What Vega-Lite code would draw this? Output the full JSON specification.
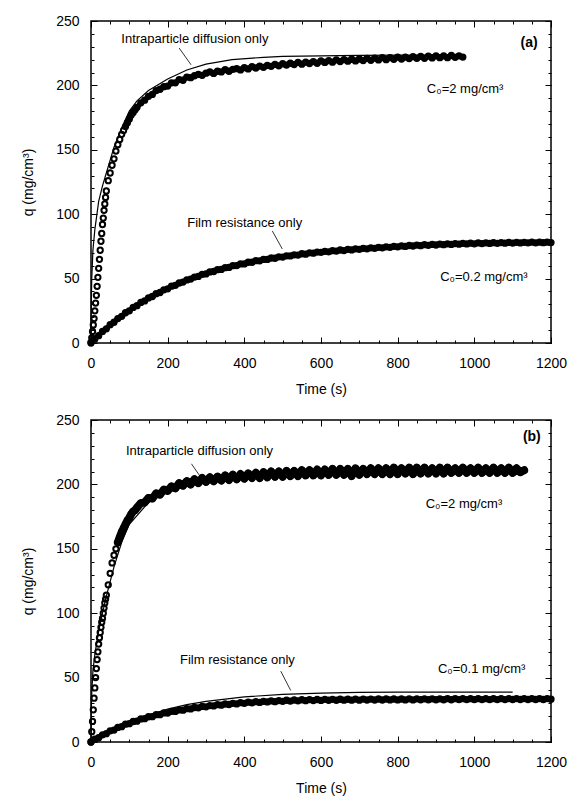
{
"$schema":"https://vega.github.io/schema/vega-lite/v6.json",
"padding":{"left":20,"top":13,"right":10,"bottom":2},
"spacing":15,
"config":{"view":{"stroke":"black","strokeWidth":1.5},"font":"Liberation Sans",
"axis":{"grid":false,"domain":false,"labelFont":"Liberation Sans","titleFont":"Liberation Sans","labelFontSize":14,"titleFontSize":14,"titleFontWeight":"normal","labelColor":"black","titleColor":"black","tickColor":"black","tickWidth":1,"labelFlush":false,"labelOverlap":false,"format":"d"},
"text":{"font":"Liberation Sans","color":"black"}},
"datasets":{"d":[
{"p":"a","k":"pt","s":"hi","t":0,"q":0},{"p":"a","k":"pt","s":"hi","t":2,"q":4},{"p":"a","k":"pt","s":"hi","t":4,"q":9},{"p":"a","k":"pt","s":"hi","t":6,"q":14},{"p":"a","k":"pt","s":"hi","t":8,"q":19},{"p":"a","k":"pt","s":"hi","t":10,"q":25},{"p":"a","k":"pt","s":"hi","t":12,"q":31},{"p":"a","k":"pt","s":"hi","t":14,"q":37},{"p":"a","k":"pt","s":"hi","t":16,"q":44},{"p":"a","k":"pt","s":"hi","t":18,"q":51},{"p":"a","k":"pt","s":"hi","t":20,"q":58},{"p":"a","k":"pt","s":"hi","t":22,"q":65},{"p":"a","k":"pt","s":"hi","t":24,"q":72},{"p":"a","k":"pt","s":"hi","t":26,"q":79},{"p":"a","k":"pt","s":"hi","t":28,"q":85},{"p":"a","k":"pt","s":"hi","t":30,"q":92},{"p":"a","k":"pt","s":"hi","t":32,"q":97},{"p":"a","k":"pt","s":"hi","t":34,"q":103},{"p":"a","k":"pt","s":"hi","t":36,"q":108},{"p":"a","k":"pt","s":"hi","t":38,"q":113},{"p":"a","k":"pt","s":"hi","t":40,"q":118},{"p":"a","k":"pt","s":"hi","t":45,"q":126},{"p":"a","k":"pt","s":"hi","t":50,"q":132},{"p":"a","k":"pt","s":"hi","t":55,"q":138},{"p":"a","k":"pt","s":"hi","t":60,"q":143},{"p":"a","k":"pt","s":"hi","t":65,"q":149},{"p":"a","k":"pt","s":"hi","t":70,"q":154},{"p":"a","k":"pt","s":"hi","t":75,"q":158},{"p":"a","k":"pt","s":"hi","t":80,"q":162},{"p":"a","k":"pt","s":"hi","t":85,"q":165},{"p":"a","k":"pt","s":"hi","t":90,"q":168},{"p":"a","k":"pt","s":"hi","t":95,"q":171},{"p":"a","k":"pt","s":"hi","t":100,"q":174},{"p":"a","k":"pt","s":"hi","t":105,"q":177},{"p":"a","k":"pt","s":"hi","t":110,"q":179},{"p":"a","k":"pt","s":"hi","t":115,"q":181},{"p":"a","k":"pt","s":"hi","t":120,"q":183},{"p":"a","k":"pt","s":"hi","t":130,"q":186.5},{"p":"a","k":"pt","s":"hi","t":140,"q":188.5},{"p":"a","k":"pt","s":"hi","t":150,"q":191.5},{"p":"a","k":"pt","s":"hi","t":160,"q":193},{"p":"a","k":"pt","s":"hi","t":170,"q":196},{"p":"a","k":"pt","s":"hi","t":180,"q":197},{"p":"a","k":"pt","s":"hi","t":190,"q":199},{"p":"a","k":"pt","s":"hi","t":200,"q":199.5},{"p":"a","k":"pt","s":"hi","t":210,"q":202},{"p":"a","k":"pt","s":"hi","t":220,"q":202},{"p":"a","k":"pt","s":"hi","t":230,"q":204.5},{"p":"a","k":"pt","s":"hi","t":240,"q":204},{"p":"a","k":"pt","s":"hi","t":250,"q":206.5},{"p":"a","k":"pt","s":"hi","t":260,"q":206},{"p":"a","k":"pt","s":"hi","t":270,"q":207.5},{"p":"a","k":"pt","s":"hi","t":280,"q":208.5},{"p":"a","k":"pt","s":"hi","t":290,"q":207.8},{"p":"a","k":"pt","s":"hi","t":300,"q":209.5},{"p":"a","k":"pt","s":"hi","t":310,"q":210.5},{"p":"a","k":"pt","s":"hi","t":320,"q":209.3},{"p":"a","k":"pt","s":"hi","t":330,"q":211},{"p":"a","k":"pt","s":"hi","t":340,"q":210.5},{"p":"a","k":"pt","s":"hi","t":350,"q":212.2},{"p":"a","k":"pt","s":"hi","t":360,"q":211},{"p":"a","k":"pt","s":"hi","t":370,"q":212.5},{"p":"a","k":"pt","s":"hi","t":380,"q":213},{"p":"a","k":"pt","s":"hi","t":390,"q":212},{"p":"a","k":"pt","s":"hi","t":400,"q":213.8},{"p":"a","k":"pt","s":"hi","t":410,"q":212.8},{"p":"a","k":"pt","s":"hi","t":420,"q":214.5},{"p":"a","k":"pt","s":"hi","t":430,"q":213.5},{"p":"a","k":"pt","s":"hi","t":440,"q":215},{"p":"a","k":"pt","s":"hi","t":450,"q":214},{"p":"a","k":"pt","s":"hi","t":460,"q":215.5},{"p":"a","k":"pt","s":"hi","t":470,"q":214.8},{"p":"a","k":"pt","s":"hi","t":480,"q":216.3},{"p":"a","k":"pt","s":"hi","t":490,"q":215.2},{"p":"a","k":"pt","s":"hi","t":500,"q":216.8},{"p":"a","k":"pt","s":"hi","t":510,"q":215.8},{"p":"a","k":"pt","s":"hi","t":520,"q":217.2},{"p":"a","k":"pt","s":"hi","t":530,"q":216.2},{"p":"a","k":"pt","s":"hi","t":540,"q":217.8},{"p":"a","k":"pt","s":"hi","t":550,"q":216.5},{"p":"a","k":"pt","s":"hi","t":560,"q":218},{"p":"a","k":"pt","s":"hi","t":570,"q":217},{"p":"a","k":"pt","s":"hi","t":580,"q":218.5},{"p":"a","k":"pt","s":"hi","t":590,"q":217.2},{"p":"a","k":"pt","s":"hi","t":600,"q":219},{"p":"a","k":"pt","s":"hi","t":610,"q":217.8},{"p":"a","k":"pt","s":"hi","t":620,"q":219.2},{"p":"a","k":"pt","s":"hi","t":630,"q":218},{"p":"a","k":"pt","s":"hi","t":640,"q":219.8},{"p":"a","k":"pt","s":"hi","t":650,"q":218.5},{"p":"a","k":"pt","s":"hi","t":660,"q":220},{"p":"a","k":"pt","s":"hi","t":670,"q":218.8},{"p":"a","k":"pt","s":"hi","t":680,"q":220.3},{"p":"a","k":"pt","s":"hi","t":690,"q":219},{"p":"a","k":"pt","s":"hi","t":700,"q":220.5},{"p":"a","k":"pt","s":"hi","t":710,"q":219.3},{"p":"a","k":"pt","s":"hi","t":720,"q":221},{"p":"a","k":"pt","s":"hi","t":730,"q":219.5},{"p":"a","k":"pt","s":"hi","t":740,"q":221.2},{"p":"a","k":"pt","s":"hi","t":750,"q":219.8},{"p":"a","k":"pt","s":"hi","t":760,"q":221.5},{"p":"a","k":"pt","s":"hi","t":770,"q":220},{"p":"a","k":"pt","s":"hi","t":780,"q":221.6},{"p":"a","k":"pt","s":"hi","t":790,"q":220.3},{"p":"a","k":"pt","s":"hi","t":800,"q":222},{"p":"a","k":"pt","s":"hi","t":810,"q":220.5},{"p":"a","k":"pt","s":"hi","t":820,"q":222},{"p":"a","k":"pt","s":"hi","t":830,"q":220.8},{"p":"a","k":"pt","s":"hi","t":840,"q":222.3},{"p":"a","k":"pt","s":"hi","t":850,"q":221},{"p":"a","k":"pt","s":"hi","t":860,"q":222.5},{"p":"a","k":"pt","s":"hi","t":870,"q":221},{"p":"a","k":"pt","s":"hi","t":880,"q":222.8},{"p":"a","k":"pt","s":"hi","t":890,"q":221.3},{"p":"a","k":"pt","s":"hi","t":900,"q":223},{"p":"a","k":"pt","s":"hi","t":910,"q":221.5},{"p":"a","k":"pt","s":"hi","t":920,"q":223},{"p":"a","k":"pt","s":"hi","t":930,"q":221.5},{"p":"a","k":"pt","s":"hi","t":940,"q":223.2},{"p":"a","k":"pt","s":"hi","t":950,"q":221.8},{"p":"a","k":"pt","s":"hi","t":960,"q":223},{"p":"a","k":"pt","s":"hi","t":970,"q":222},
{"p":"a","k":"pt","s":"lo","t":0,"q":0.5},{"p":"a","k":"pt","s":"lo","t":10,"q":3.2},{"p":"a","k":"pt","s":"lo","t":20,"q":5.7},{"p":"a","k":"pt","s":"lo","t":30,"q":9},{"p":"a","k":"pt","s":"lo","t":40,"q":11},{"p":"a","k":"pt","s":"lo","t":50,"q":14.2},{"p":"a","k":"pt","s":"lo","t":60,"q":16.1},{"p":"a","k":"pt","s":"lo","t":70,"q":19},{"p":"a","k":"pt","s":"lo","t":80,"q":20.7},{"p":"a","k":"pt","s":"lo","t":90,"q":23.5},{"p":"a","k":"pt","s":"lo","t":100,"q":25},{"p":"a","k":"pt","s":"lo","t":110,"q":27.6},{"p":"a","k":"pt","s":"lo","t":120,"q":29},{"p":"a","k":"pt","s":"lo","t":130,"q":31.5},{"p":"a","k":"pt","s":"lo","t":140,"q":32.7},{"p":"a","k":"pt","s":"lo","t":150,"q":35},{"p":"a","k":"pt","s":"lo","t":160,"q":36.1},{"p":"a","k":"pt","s":"lo","t":170,"q":38.3},{"p":"a","k":"pt","s":"lo","t":180,"q":39.2},{"p":"a","k":"pt","s":"lo","t":190,"q":41.3},{"p":"a","k":"pt","s":"lo","t":200,"q":42.1},{"p":"a","k":"pt","s":"lo","t":210,"q":44.1},{"p":"a","k":"pt","s":"lo","t":220,"q":44.8},{"p":"a","k":"pt","s":"lo","t":230,"q":46.6},{"p":"a","k":"pt","s":"lo","t":240,"q":47.3},{"p":"a","k":"pt","s":"lo","t":250,"q":49},{"p":"a","k":"pt","s":"lo","t":260,"q":49.6},{"p":"a","k":"pt","s":"lo","t":270,"q":51.2},{"p":"a","k":"pt","s":"lo","t":280,"q":51.7},{"p":"a","k":"pt","s":"lo","t":290,"q":53.3},{"p":"a","k":"pt","s":"lo","t":300,"q":53.6},{"p":"a","k":"pt","s":"lo","t":310,"q":55.2},{"p":"a","k":"pt","s":"lo","t":320,"q":55.5},{"p":"a","k":"pt","s":"lo","t":330,"q":56.9},{"p":"a","k":"pt","s":"lo","t":340,"q":57.1},{"p":"a","k":"pt","s":"lo","t":350,"q":58.5},{"p":"a","k":"pt","s":"lo","t":360,"q":58.7},{"p":"a","k":"pt","s":"lo","t":370,"q":60},{"p":"a","k":"pt","s":"lo","t":380,"q":60.1},{"p":"a","k":"pt","s":"lo","t":390,"q":61.4},{"p":"a","k":"pt","s":"lo","t":400,"q":61.4},{"p":"a","k":"pt","s":"lo","t":410,"q":62.7},{"p":"a","k":"pt","s":"lo","t":420,"q":62.7},{"p":"a","k":"pt","s":"lo","t":430,"q":63.9},{"p":"a","k":"pt","s":"lo","t":440,"q":63.8},{"p":"a","k":"pt","s":"lo","t":450,"q":64.9},{"p":"a","k":"pt","s":"lo","t":460,"q":64.9},{"p":"a","k":"pt","s":"lo","t":470,"q":66},{"p":"a","k":"pt","s":"lo","t":480,"q":65.8},{"p":"a","k":"pt","s":"lo","t":490,"q":66.9},{"p":"a","k":"pt","s":"lo","t":500,"q":66.7},{"p":"a","k":"pt","s":"lo","t":510,"q":67.7},{"p":"a","k":"pt","s":"lo","t":520,"q":67.6},{"p":"a","k":"pt","s":"lo","t":530,"q":68.5},{"p":"a","k":"pt","s":"lo","t":540,"q":68.3},{"p":"a","k":"pt","s":"lo","t":550,"q":69.3},{"p":"a","k":"pt","s":"lo","t":560,"q":69},{"p":"a","k":"pt","s":"lo","t":570,"q":70},{"p":"a","k":"pt","s":"lo","t":580,"q":69.7},{"p":"a","k":"pt","s":"lo","t":590,"q":70.6},{"p":"a","k":"pt","s":"lo","t":600,"q":70.3},{"p":"a","k":"pt","s":"lo","t":610,"q":71.2},{"p":"a","k":"pt","s":"lo","t":620,"q":70.8},{"p":"a","k":"pt","s":"lo","t":630,"q":71.7},{"p":"a","k":"pt","s":"lo","t":640,"q":71.4},{"p":"a","k":"pt","s":"lo","t":650,"q":72.2},{"p":"a","k":"pt","s":"lo","t":660,"q":71.8},{"p":"a","k":"pt","s":"lo","t":670,"q":72.7},{"p":"a","k":"pt","s":"lo","t":680,"q":72.3},{"p":"a","k":"pt","s":"lo","t":690,"q":73.1},{"p":"a","k":"pt","s":"lo","t":700,"q":72.7},{"p":"a","k":"pt","s":"lo","t":710,"q":73.5},{"p":"a","k":"pt","s":"lo","t":720,"q":73.1},{"p":"a","k":"pt","s":"lo","t":730,"q":73.9},{"p":"a","k":"pt","s":"lo","t":740,"q":73.5},{"p":"a","k":"pt","s":"lo","t":750,"q":74.3},{"p":"a","k":"pt","s":"lo","t":760,"q":73.9},{"p":"a","k":"pt","s":"lo","t":770,"q":74.7},{"p":"a","k":"pt","s":"lo","t":780,"q":74.3},{"p":"a","k":"pt","s":"lo","t":790,"q":75.1},{"p":"a","k":"pt","s":"lo","t":800,"q":74.7},{"p":"a","k":"pt","s":"lo","t":810,"q":75.4},{"p":"a","k":"pt","s":"lo","t":820,"q":75},{"p":"a","k":"pt","s":"lo","t":830,"q":75.7},{"p":"a","k":"pt","s":"lo","t":840,"q":75.3},{"p":"a","k":"pt","s":"lo","t":850,"q":76},{"p":"a","k":"pt","s":"lo","t":860,"q":75.6},{"p":"a","k":"pt","s":"lo","t":870,"q":76.3},{"p":"a","k":"pt","s":"lo","t":880,"q":75.8},{"p":"a","k":"pt","s":"lo","t":890,"q":76.5},{"p":"a","k":"pt","s":"lo","t":900,"q":76.1},{"p":"a","k":"pt","s":"lo","t":910,"q":76.8},{"p":"a","k":"pt","s":"lo","t":920,"q":76.3},{"p":"a","k":"pt","s":"lo","t":930,"q":77},{"p":"a","k":"pt","s":"lo","t":940,"q":76.5},{"p":"a","k":"pt","s":"lo","t":950,"q":77.2},{"p":"a","k":"pt","s":"lo","t":960,"q":76.7},{"p":"a","k":"pt","s":"lo","t":970,"q":77.4},{"p":"a","k":"pt","s":"lo","t":980,"q":76.9},{"p":"a","k":"pt","s":"lo","t":990,"q":77.5},{"p":"a","k":"pt","s":"lo","t":1000,"q":77},{"p":"a","k":"pt","s":"lo","t":1010,"q":77.7},{"p":"a","k":"pt","s":"lo","t":1020,"q":77.2},{"p":"a","k":"pt","s":"lo","t":1030,"q":77.8},{"p":"a","k":"pt","s":"lo","t":1040,"q":77.3},{"p":"a","k":"pt","s":"lo","t":1050,"q":77.9},{"p":"a","k":"pt","s":"lo","t":1060,"q":77.4},{"p":"a","k":"pt","s":"lo","t":1070,"q":78},{"p":"a","k":"pt","s":"lo","t":1080,"q":77.5},{"p":"a","k":"pt","s":"lo","t":1090,"q":78.1},{"p":"a","k":"pt","s":"lo","t":1100,"q":77.6},{"p":"a","k":"pt","s":"lo","t":1110,"q":78.2},{"p":"a","k":"pt","s":"lo","t":1120,"q":77.7},{"p":"a","k":"pt","s":"lo","t":1130,"q":78.2},{"p":"a","k":"pt","s":"lo","t":1140,"q":77.8},{"p":"a","k":"pt","s":"lo","t":1150,"q":78.3},{"p":"a","k":"pt","s":"lo","t":1160,"q":77.8},{"p":"a","k":"pt","s":"lo","t":1170,"q":78.3},{"p":"a","k":"pt","s":"lo","t":1180,"q":77.9},{"p":"a","k":"pt","s":"lo","t":1190,"q":78.3},{"p":"a","k":"pt","s":"lo","t":1200,"q":78},
{"p":"a","k":"ln","s":"hi","t":0,"q":0},{"p":"a","k":"ln","s":"hi","t":1,"q":35},{"p":"a","k":"ln","s":"hi","t":2,"q":50},{"p":"a","k":"ln","s":"hi","t":5,"q":72},{"p":"a","k":"ln","s":"hi","t":10,"q":88},{"p":"a","k":"ln","s":"hi","t":20,"q":110},{"p":"a","k":"ln","s":"hi","t":30,"q":122},{"p":"a","k":"ln","s":"hi","t":40,"q":132},{"p":"a","k":"ln","s":"hi","t":50,"q":142},{"p":"a","k":"ln","s":"hi","t":60,"q":152},{"p":"a","k":"ln","s":"hi","t":80,"q":167},{"p":"a","k":"ln","s":"hi","t":100,"q":180},{"p":"a","k":"ln","s":"hi","t":120,"q":188},{"p":"a","k":"ln","s":"hi","t":150,"q":196},{"p":"a","k":"ln","s":"hi","t":200,"q":205},{"p":"a","k":"ln","s":"hi","t":250,"q":212},{"p":"a","k":"ln","s":"hi","t":300,"q":216.5},{"p":"a","k":"ln","s":"hi","t":368,"q":220},{"p":"a","k":"ln","s":"hi","t":450,"q":221.8},{"p":"a","k":"ln","s":"hi","t":500,"q":222.5},{"p":"a","k":"ln","s":"hi","t":600,"q":223},{"p":"a","k":"ln","s":"hi","t":700,"q":223.3},{"p":"a","k":"ln","s":"hi","t":800,"q":223.5},{"p":"a","k":"ln","s":"hi","t":970,"q":223.6},
{"p":"a","k":"ln","s":"lo","t":0,"q":0},{"p":"a","k":"ln","s":"lo","t":50,"q":14.3},{"p":"a","k":"ln","s":"lo","t":100,"q":25.8},{"p":"a","k":"ln","s":"lo","t":150,"q":35.2},{"p":"a","k":"ln","s":"lo","t":200,"q":43},{"p":"a","k":"ln","s":"lo","t":250,"q":49.5},{"p":"a","k":"ln","s":"lo","t":300,"q":54.7},{"p":"a","k":"ln","s":"lo","t":400,"q":62.2},{"p":"a","k":"ln","s":"lo","t":500,"q":67.4},{"p":"a","k":"ln","s":"lo","t":600,"q":71},{"p":"a","k":"ln","s":"lo","t":700,"q":73.6},{"p":"a","k":"ln","s":"lo","t":800,"q":75.3},{"p":"a","k":"ln","s":"lo","t":900,"q":76.5},{"p":"a","k":"ln","s":"lo","t":1000,"q":77.3},{"p":"a","k":"ln","s":"lo","t":1100,"q":77.9},{"p":"a","k":"ln","s":"lo","t":1200,"q":78.3},
{"p":"a","k":"tx","s":"x","t":271,"q":236,"label":"Intraparticle diffusion only"},{"p":"a","k":"tx","s":"x","t":976,"q":197,"label":"C₀=2 mg/cm³"},{"p":"a","k":"tx","s":"x","t":401,"q":93,"label":"Film resistance only"},{"p":"a","k":"tx","s":"x","t":1025,"q":51,"label":"C₀=0.2 mg/cm³"},{"p":"a","k":"bx","s":"x","t":1143,"q":233,"label":"(a)"},
{"p":"a","k":"rl","s":"x","t":230,"q":229,"t2":261,"q2":216},{"p":"a","k":"rl","s":"x","t":473,"q":87,"t2":499,"q2":73},
{"p":"b","k":"pt","s":"hi","t":0,"q":0},{"p":"b","k":"pt","s":"hi","t":2,"q":8},{"p":"b","k":"pt","s":"hi","t":4,"q":16},{"p":"b","k":"pt","s":"hi","t":6,"q":25},{"p":"b","k":"pt","s":"hi","t":8,"q":34},{"p":"b","k":"pt","s":"hi","t":10,"q":42},{"p":"b","k":"pt","s":"hi","t":12,"q":50},{"p":"b","k":"pt","s":"hi","t":14,"q":57},{"p":"b","k":"pt","s":"hi","t":16,"q":64},{"p":"b","k":"pt","s":"hi","t":18,"q":70},{"p":"b","k":"pt","s":"hi","t":20,"q":76},{"p":"b","k":"pt","s":"hi","t":22,"q":81},{"p":"b","k":"pt","s":"hi","t":24,"q":85},{"p":"b","k":"pt","s":"hi","t":26,"q":89},{"p":"b","k":"pt","s":"hi","t":28,"q":93},{"p":"b","k":"pt","s":"hi","t":30,"q":96},{"p":"b","k":"pt","s":"hi","t":32,"q":100},{"p":"b","k":"pt","s":"hi","t":34,"q":104},{"p":"b","k":"pt","s":"hi","t":36,"q":108},{"p":"b","k":"pt","s":"hi","t":38,"q":111},{"p":"b","k":"pt","s":"hi","t":40,"q":114},{"p":"b","k":"pt","s":"hi","t":45,"q":122},{"p":"b","k":"pt","s":"hi","t":50,"q":131},{"p":"b","k":"pt","s":"hi","t":55,"q":139},{"p":"b","k":"pt","s":"hi","t":60,"q":145},{"p":"b","k":"pt","s":"hi","t":65,"q":150},{"p":"b","k":"pt","s":"hi","t":70,"q":155},{"p":"b","k":"pt","s":"hi","t":75,"q":159},{"p":"b","k":"pt","s":"hi","t":80,"q":163},{"p":"b","k":"pt","s":"hi","t":85,"q":166},{"p":"b","k":"pt","s":"hi","t":90,"q":169},{"p":"b","k":"pt","s":"hi","t":95,"q":172},{"p":"b","k":"pt","s":"hi","t":100,"q":174},{"p":"b","k":"pt","s":"hi","t":105,"q":177},{"p":"b","k":"pt","s":"hi","t":110,"q":179},{"p":"b","k":"pt","s":"hi","t":115,"q":180},{"p":"b","k":"pt","s":"hi","t":120,"q":182},{"p":"b","k":"pt","s":"hi","t":130,"q":185.5},{"p":"b","k":"pt","s":"hi","t":140,"q":186},{"p":"b","k":"pt","s":"hi","t":150,"q":189.5},{"p":"b","k":"pt","s":"hi","t":160,"q":189},{"p":"b","k":"pt","s":"hi","t":170,"q":193},{"p":"b","k":"pt","s":"hi","t":180,"q":192},{"p":"b","k":"pt","s":"hi","t":190,"q":196},{"p":"b","k":"pt","s":"hi","t":200,"q":195},{"p":"b","k":"pt","s":"hi","t":210,"q":198.5},{"p":"b","k":"pt","s":"hi","t":220,"q":197},{"p":"b","k":"pt","s":"hi","t":230,"q":201},{"p":"b","k":"pt","s":"hi","t":240,"q":199},{"p":"b","k":"pt","s":"hi","t":250,"q":202.5},{"p":"b","k":"pt","s":"hi","t":260,"q":200},{"p":"b","k":"pt","s":"hi","t":270,"q":204},{"p":"b","k":"pt","s":"hi","t":280,"q":201},{"p":"b","k":"pt","s":"hi","t":290,"q":205},{"p":"b","k":"pt","s":"hi","t":300,"q":202},{"p":"b","k":"pt","s":"hi","t":310,"q":205.5},{"p":"b","k":"pt","s":"hi","t":320,"q":202.5},{"p":"b","k":"pt","s":"hi","t":330,"q":206},{"p":"b","k":"pt","s":"hi","t":340,"q":203},{"p":"b","k":"pt","s":"hi","t":350,"q":207},{"p":"b","k":"pt","s":"hi","t":360,"q":203.5},{"p":"b","k":"pt","s":"hi","t":370,"q":207.5},{"p":"b","k":"pt","s":"hi","t":380,"q":204},{"p":"b","k":"pt","s":"hi","t":390,"q":208},{"p":"b","k":"pt","s":"hi","t":400,"q":204.5},{"p":"b","k":"pt","s":"hi","t":410,"q":208.5},{"p":"b","k":"pt","s":"hi","t":420,"q":205},{"p":"b","k":"pt","s":"hi","t":430,"q":209},{"p":"b","k":"pt","s":"hi","t":440,"q":205},{"p":"b","k":"pt","s":"hi","t":450,"q":209.5},{"p":"b","k":"pt","s":"hi","t":460,"q":205.5},{"p":"b","k":"pt","s":"hi","t":470,"q":210},{"p":"b","k":"pt","s":"hi","t":480,"q":206},{"p":"b","k":"pt","s":"hi","t":490,"q":210},{"p":"b","k":"pt","s":"hi","t":500,"q":206},{"p":"b","k":"pt","s":"hi","t":510,"q":210.5},{"p":"b","k":"pt","s":"hi","t":520,"q":206.5},{"p":"b","k":"pt","s":"hi","t":530,"q":210.5},{"p":"b","k":"pt","s":"hi","t":540,"q":206.5},{"p":"b","k":"pt","s":"hi","t":550,"q":211},{"p":"b","k":"pt","s":"hi","t":560,"q":207},{"p":"b","k":"pt","s":"hi","t":570,"q":211},{"p":"b","k":"pt","s":"hi","t":580,"q":207},{"p":"b","k":"pt","s":"hi","t":590,"q":211.5},{"p":"b","k":"pt","s":"hi","t":600,"q":207},{"p":"b","k":"pt","s":"hi","t":610,"q":211.5},{"p":"b","k":"pt","s":"hi","t":620,"q":207.5},{"p":"b","k":"pt","s":"hi","t":630,"q":212},{"p":"b","k":"pt","s":"hi","t":640,"q":207.5},{"p":"b","k":"pt","s":"hi","t":650,"q":212},{"p":"b","k":"pt","s":"hi","t":660,"q":207.5},{"p":"b","k":"pt","s":"hi","t":670,"q":212},{"p":"b","k":"pt","s":"hi","t":680,"q":206.5},{"p":"b","k":"pt","s":"hi","t":690,"q":212.5},{"p":"b","k":"pt","s":"hi","t":700,"q":207.5},{"p":"b","k":"pt","s":"hi","t":710,"q":212},{"p":"b","k":"pt","s":"hi","t":720,"q":208},{"p":"b","k":"pt","s":"hi","t":730,"q":212.5},{"p":"b","k":"pt","s":"hi","t":740,"q":208},{"p":"b","k":"pt","s":"hi","t":750,"q":212.5},{"p":"b","k":"pt","s":"hi","t":760,"q":208},{"p":"b","k":"pt","s":"hi","t":770,"q":212.5},{"p":"b","k":"pt","s":"hi","t":780,"q":208},{"p":"b","k":"pt","s":"hi","t":790,"q":213},{"p":"b","k":"pt","s":"hi","t":800,"q":208},{"p":"b","k":"pt","s":"hi","t":810,"q":212.5},{"p":"b","k":"pt","s":"hi","t":820,"q":208.5},{"p":"b","k":"pt","s":"hi","t":830,"q":213},{"p":"b","k":"pt","s":"hi","t":840,"q":208},{"p":"b","k":"pt","s":"hi","t":850,"q":213},{"p":"b","k":"pt","s":"hi","t":860,"q":208.5},{"p":"b","k":"pt","s":"hi","t":870,"q":213},{"p":"b","k":"pt","s":"hi","t":880,"q":208.5},{"p":"b","k":"pt","s":"hi","t":890,"q":212.5},{"p":"b","k":"pt","s":"hi","t":900,"q":208.5},{"p":"b","k":"pt","s":"hi","t":910,"q":213},{"p":"b","k":"pt","s":"hi","t":920,"q":208.5},{"p":"b","k":"pt","s":"hi","t":930,"q":213},{"p":"b","k":"pt","s":"hi","t":940,"q":209},{"p":"b","k":"pt","s":"hi","t":950,"q":212.5},{"p":"b","k":"pt","s":"hi","t":960,"q":209},{"p":"b","k":"pt","s":"hi","t":970,"q":213},{"p":"b","k":"pt","s":"hi","t":980,"q":209},{"p":"b","k":"pt","s":"hi","t":990,"q":212.5},{"p":"b","k":"pt","s":"hi","t":1000,"q":209},{"p":"b","k":"pt","s":"hi","t":1010,"q":213},{"p":"b","k":"pt","s":"hi","t":1020,"q":209},{"p":"b","k":"pt","s":"hi","t":1030,"q":212.5},{"p":"b","k":"pt","s":"hi","t":1040,"q":209},{"p":"b","k":"pt","s":"hi","t":1050,"q":213},{"p":"b","k":"pt","s":"hi","t":1060,"q":209},{"p":"b","k":"pt","s":"hi","t":1070,"q":212.5},{"p":"b","k":"pt","s":"hi","t":1080,"q":209},{"p":"b","k":"pt","s":"hi","t":1090,"q":213},{"p":"b","k":"pt","s":"hi","t":1100,"q":209},{"p":"b","k":"pt","s":"hi","t":1110,"q":212.5},{"p":"b","k":"pt","s":"hi","t":1120,"q":209.5},{"p":"b","k":"pt","s":"hi","t":1130,"q":211},
{"p":"b","k":"pt","s":"lo","t":0,"q":0},{"p":"b","k":"pt","s":"lo","t":10,"q":2.2},{"p":"b","k":"pt","s":"lo","t":20,"q":3.3},{"p":"b","k":"pt","s":"lo","t":30,"q":5.6},{"p":"b","k":"pt","s":"lo","t":40,"q":6.5},{"p":"b","k":"pt","s":"lo","t":50,"q":8.7},{"p":"b","k":"pt","s":"lo","t":60,"q":9.3},{"p":"b","k":"pt","s":"lo","t":70,"q":11.3},{"p":"b","k":"pt","s":"lo","t":80,"q":11.9},{"p":"b","k":"pt","s":"lo","t":90,"q":13.8},{"p":"b","k":"pt","s":"lo","t":100,"q":14.2},{"p":"b","k":"pt","s":"lo","t":110,"q":15.9},{"p":"b","k":"pt","s":"lo","t":120,"q":16.2},{"p":"b","k":"pt","s":"lo","t":130,"q":17.9},{"p":"b","k":"pt","s":"lo","t":140,"q":18.1},{"p":"b","k":"pt","s":"lo","t":150,"q":19.6},{"p":"b","k":"pt","s":"lo","t":160,"q":19.7},{"p":"b","k":"pt","s":"lo","t":170,"q":21.2},{"p":"b","k":"pt","s":"lo","t":180,"q":21.2},{"p":"b","k":"pt","s":"lo","t":190,"q":22.6},{"p":"b","k":"pt","s":"lo","t":200,"q":22.5},{"p":"b","k":"pt","s":"lo","t":210,"q":23.8},{"p":"b","k":"pt","s":"lo","t":220,"q":23.7},{"p":"b","k":"pt","s":"lo","t":230,"q":24.9},{"p":"b","k":"pt","s":"lo","t":240,"q":24.7},{"p":"b","k":"pt","s":"lo","t":250,"q":25.9},{"p":"b","k":"pt","s":"lo","t":260,"q":25.7},{"p":"b","k":"pt","s":"lo","t":270,"q":26.8},{"p":"b","k":"pt","s":"lo","t":280,"q":26.5},{"p":"b","k":"pt","s":"lo","t":290,"q":27.6},{"p":"b","k":"pt","s":"lo","t":300,"q":27.3},{"p":"b","k":"pt","s":"lo","t":310,"q":28.3},{"p":"b","k":"pt","s":"lo","t":320,"q":28},{"p":"b","k":"pt","s":"lo","t":330,"q":29},{"p":"b","k":"pt","s":"lo","t":340,"q":28.6},{"p":"b","k":"pt","s":"lo","t":350,"q":29.5},{"p":"b","k":"pt","s":"lo","t":360,"q":29.1},{"p":"b","k":"pt","s":"lo","t":370,"q":30},{"p":"b","k":"pt","s":"lo","t":380,"q":29.6},{"p":"b","k":"pt","s":"lo","t":390,"q":30.5},{"p":"b","k":"pt","s":"lo","t":400,"q":30},{"p":"b","k":"pt","s":"lo","t":410,"q":30.9},{"p":"b","k":"pt","s":"lo","t":420,"q":30.4},{"p":"b","k":"pt","s":"lo","t":430,"q":31.3},{"p":"b","k":"pt","s":"lo","t":440,"q":30.7},{"p":"b","k":"pt","s":"lo","t":450,"q":31.6},{"p":"b","k":"pt","s":"lo","t":460,"q":31.1},{"p":"b","k":"pt","s":"lo","t":470,"q":31.9},{"p":"b","k":"pt","s":"lo","t":480,"q":31.3},{"p":"b","k":"pt","s":"lo","t":490,"q":32.2},{"p":"b","k":"pt","s":"lo","t":500,"q":31.6},{"p":"b","k":"pt","s":"lo","t":510,"q":32.4},{"p":"b","k":"pt","s":"lo","t":520,"q":31.8},{"p":"b","k":"pt","s":"lo","t":530,"q":32.6},{"p":"b","k":"pt","s":"lo","t":540,"q":32},{"p":"b","k":"pt","s":"lo","t":550,"q":32.8},{"p":"b","k":"pt","s":"lo","t":560,"q":32.1},{"p":"b","k":"pt","s":"lo","t":570,"q":32.9},{"p":"b","k":"pt","s":"lo","t":580,"q":32.2},{"p":"b","k":"pt","s":"lo","t":590,"q":33},{"p":"b","k":"pt","s":"lo","t":600,"q":32.3},{"p":"b","k":"pt","s":"lo","t":610,"q":33.1},{"p":"b","k":"pt","s":"lo","t":620,"q":32.4},{"p":"b","k":"pt","s":"lo","t":630,"q":33.1},{"p":"b","k":"pt","s":"lo","t":640,"q":32.4},{"p":"b","k":"pt","s":"lo","t":650,"q":33.2},{"p":"b","k":"pt","s":"lo","t":660,"q":32.5},{"p":"b","k":"pt","s":"lo","t":670,"q":33.2},{"p":"b","k":"pt","s":"lo","t":680,"q":32.5},{"p":"b","k":"pt","s":"lo","t":690,"q":33.3},{"p":"b","k":"pt","s":"lo","t":700,"q":32.5},{"p":"b","k":"pt","s":"lo","t":710,"q":33.3},{"p":"b","k":"pt","s":"lo","t":720,"q":32.6},{"p":"b","k":"pt","s":"lo","t":730,"q":33.3},{"p":"b","k":"pt","s":"lo","t":740,"q":32.6},{"p":"b","k":"pt","s":"lo","t":750,"q":33.4},{"p":"b","k":"pt","s":"lo","t":760,"q":32.6},{"p":"b","k":"pt","s":"lo","t":770,"q":33.4},{"p":"b","k":"pt","s":"lo","t":780,"q":32.7},{"p":"b","k":"pt","s":"lo","t":790,"q":33.4},{"p":"b","k":"pt","s":"lo","t":800,"q":32.7},{"p":"b","k":"pt","s":"lo","t":810,"q":33.4},{"p":"b","k":"pt","s":"lo","t":820,"q":32.7},{"p":"b","k":"pt","s":"lo","t":830,"q":33.5},{"p":"b","k":"pt","s":"lo","t":840,"q":32.7},{"p":"b","k":"pt","s":"lo","t":850,"q":33.5},{"p":"b","k":"pt","s":"lo","t":860,"q":32.8},{"p":"b","k":"pt","s":"lo","t":870,"q":33.5},{"p":"b","k":"pt","s":"lo","t":880,"q":32.8},{"p":"b","k":"pt","s":"lo","t":890,"q":33.5},{"p":"b","k":"pt","s":"lo","t":900,"q":32.8},{"p":"b","k":"pt","s":"lo","t":910,"q":33.5},{"p":"b","k":"pt","s":"lo","t":920,"q":32.8},{"p":"b","k":"pt","s":"lo","t":930,"q":33.6},{"p":"b","k":"pt","s":"lo","t":940,"q":32.8},{"p":"b","k":"pt","s":"lo","t":950,"q":33.6},{"p":"b","k":"pt","s":"lo","t":960,"q":32.9},{"p":"b","k":"pt","s":"lo","t":970,"q":33.6},{"p":"b","k":"pt","s":"lo","t":980,"q":32.9},{"p":"b","k":"pt","s":"lo","t":990,"q":33.6},{"p":"b","k":"pt","s":"lo","t":1000,"q":32.9},{"p":"b","k":"pt","s":"lo","t":1010,"q":33.6},{"p":"b","k":"pt","s":"lo","t":1020,"q":32.9},{"p":"b","k":"pt","s":"lo","t":1030,"q":33.6},{"p":"b","k":"pt","s":"lo","t":1040,"q":32.9},{"p":"b","k":"pt","s":"lo","t":1050,"q":33.6},{"p":"b","k":"pt","s":"lo","t":1060,"q":32.9},{"p":"b","k":"pt","s":"lo","t":1070,"q":33.7},{"p":"b","k":"pt","s":"lo","t":1080,"q":32.9},{"p":"b","k":"pt","s":"lo","t":1090,"q":33.7},{"p":"b","k":"pt","s":"lo","t":1100,"q":33},{"p":"b","k":"pt","s":"lo","t":1110,"q":33.7},{"p":"b","k":"pt","s":"lo","t":1120,"q":33},{"p":"b","k":"pt","s":"lo","t":1130,"q":33.7},{"p":"b","k":"pt","s":"lo","t":1140,"q":33},{"p":"b","k":"pt","s":"lo","t":1150,"q":33.7},{"p":"b","k":"pt","s":"lo","t":1160,"q":33},{"p":"b","k":"pt","s":"lo","t":1170,"q":33.7},{"p":"b","k":"pt","s":"lo","t":1180,"q":33},{"p":"b","k":"pt","s":"lo","t":1190,"q":33.7},{"p":"b","k":"pt","s":"lo","t":1200,"q":33.2},
{"p":"b","k":"ln","s":"hi","t":0,"q":0},{"p":"b","k":"ln","s":"hi","t":1,"q":28},{"p":"b","k":"ln","s":"hi","t":2,"q":38},{"p":"b","k":"ln","s":"hi","t":5,"q":55},{"p":"b","k":"ln","s":"hi","t":10,"q":68},{"p":"b","k":"ln","s":"hi","t":20,"q":86},{"p":"b","k":"ln","s":"hi","t":30,"q":100},{"p":"b","k":"ln","s":"hi","t":40,"q":113},{"p":"b","k":"ln","s":"hi","t":60,"q":136},{"p":"b","k":"ln","s":"hi","t":80,"q":155},{"p":"b","k":"ln","s":"hi","t":100,"q":169},{"p":"b","k":"ln","s":"hi","t":150,"q":186},{"p":"b","k":"ln","s":"hi","t":200,"q":195},{"p":"b","k":"ln","s":"hi","t":300,"q":203},{"p":"b","k":"ln","s":"hi","t":400,"q":207},{"p":"b","k":"ln","s":"hi","t":600,"q":210},{"p":"b","k":"ln","s":"hi","t":800,"q":211},{"p":"b","k":"ln","s":"hi","t":1130,"q":211.5},
{"p":"b","k":"ln","s":"lo","t":0,"q":0},{"p":"b","k":"ln","s":"lo","t":25,"q":4.2},{"p":"b","k":"ln","s":"lo","t":50,"q":8.2},{"p":"b","k":"ln","s":"lo","t":100,"q":15},{"p":"b","k":"ln","s":"lo","t":150,"q":20.8},{"p":"b","k":"ln","s":"lo","t":200,"q":25.5},{"p":"b","k":"ln","s":"lo","t":250,"q":29},{"p":"b","k":"ln","s":"lo","t":300,"q":31.6},{"p":"b","k":"ln","s":"lo","t":400,"q":35},{"p":"b","k":"ln","s":"lo","t":500,"q":37},{"p":"b","k":"ln","s":"lo","t":600,"q":38},{"p":"b","k":"ln","s":"lo","t":700,"q":38.5},{"p":"b","k":"ln","s":"lo","t":800,"q":38.7},{"p":"b","k":"ln","s":"lo","t":900,"q":38.8},{"p":"b","k":"ln","s":"lo","t":1100,"q":38.8},
{"p":"b","k":"tx","s":"x","t":283,"q":226,"label":"Intraparticle diffusion only"},{"p":"b","k":"tx","s":"x","t":973,"q":185,"label":"C₀=2 mg/cm³"},{"p":"b","k":"tx","s":"x","t":382,"q":64,"label":"Film resistance only"},{"p":"b","k":"tx","s":"x","t":1019,"q":57,"label":"C₀=0.1 mg/cm³"},{"p":"b","k":"bx","s":"x","t":1150,"q":237,"label":"(b)"},
{"p":"b","k":"rl","s":"x","t":262,"q":216,"t2":283,"q2":207},{"p":"b","k":"rl","s":"x","t":495,"q":55,"t2":521,"q2":40}
]},
"vconcat":[
{"width":460,"height":322,"data":{"name":"d"},"transform":[{"filter":"datum.p==='a'"}],
"layer":[
{"transform":[{"filter":"datum.k==='pt' && (datum.s==='lo' || datum.t>=90)"}],"mark":{"type":"line","color":"black","strokeWidth":5,"strokeCap":"round","strokeJoin":"round"},
"encoding":{"x":{"field":"t","type":"quantitative","scale":{"domain":[0,1200],"nice":false},"axis":null},"y":{"field":"q","type":"quantitative","scale":{"domain":[0,250],"nice":false},"axis":null},"detail":{"field":"s"}}},
{"transform":[{"filter":"datum.k==='pt'"}],"mark":{"type":"point","filled":false,"color":"black","size":28,"strokeWidth":2,"opacity":1},
"encoding":{"x":{"field":"t","type":"quantitative","scale":{"domain":[0,1200],"nice":false},"axis":{"orient":"bottom","values":[0,200,400,600,800,1000,1200],"tickSize":-6,"labelPadding":19,"title":"Time (s)","titlePadding":12}},
"y":{"field":"q","type":"quantitative","scale":{"domain":[0,250],"nice":false},"axis":{"orient":"left","values":[0,50,100,150,200,250],"tickSize":-6,"labelPadding":18,"title":"q (mg/cm³)","titlePadding":20}}}},
{"transform":[{"filter":"datum.k==='ln'"}],"mark":{"type":"line","color":"black","strokeWidth":1.2},
"encoding":{"x":{"field":"t","type":"quantitative","scale":{"domain":[0,1200],"nice":false},"axis":{"orient":"top","values":[0,200,400,600,800,1000,1200],"tickSize":-6,"labels":false,"title":null}},
"y":{"field":"q","type":"quantitative","scale":{"domain":[0,250],"nice":false},"axis":{"orient":"right","values":[0,50,100,150,200,250],"tickSize":-6,"labels":false,"title":null}},"detail":{"field":"s"}}},
{"transform":[{"filter":"datum.k==='tx'"}],"mark":{"type":"text","fontSize":13,"align":"center","baseline":"middle"},
"encoding":{"x":{"field":"t","type":"quantitative","scale":{"domain":[0,1200],"nice":false},"axis":{"orient":"bottom","values":[0,50,100,150,200,250,300,350,400,450,500,550,600,650,700,750,800,850,900,950,1000,1050,1100,1150,1200],"tickSize":-3,"labels":false,"title":null}},
"y":{"field":"q","type":"quantitative","scale":{"domain":[0,250],"nice":false},"axis":{"orient":"left","values":[0,10,20,30,40,50,60,70,80,90,100,110,120,130,140,150,160,170,180,190,200,210,220,230,240,250],"tickSize":-3,"labels":false,"title":null}},"text":{"field":"label"}}},
{"transform":[{"filter":"datum.k==='rl'"}],"mark":{"type":"rule","color":"black","strokeWidth":0.8},
"encoding":{"x":{"field":"t","type":"quantitative","scale":{"domain":[0,1200],"nice":false},"axis":{"orient":"top","values":[0,50,100,150,200,250,300,350,400,450,500,550,600,650,700,750,800,850,900,950,1000,1050,1100,1150,1200],"tickSize":-3,"labels":false,"title":null}},
"y":{"field":"q","type":"quantitative","scale":{"domain":[0,250],"nice":false},"axis":{"orient":"right","values":[0,10,20,30,40,50,60,70,80,90,100,110,120,130,140,150,160,170,180,190,200,210,220,230,240,250],"tickSize":-3,"labels":false,"title":null}},"x2":{"field":"t2"},"y2":{"field":"q2"}}},
{"transform":[{"filter":"datum.k==='bx'"}],"mark":{"type":"text","fontSize":14,"fontWeight":"bold","align":"center","baseline":"middle"},
"encoding":{"x":{"field":"t","type":"quantitative","scale":{"domain":[0,1200],"nice":false},"axis":null},"y":{"field":"q","type":"quantitative","scale":{"domain":[0,250],"nice":false},"axis":null},"text":{"field":"label"}}}
],
"resolve":{"axis":{"x":"independent","y":"independent"}}},
{"width":460,"height":322,"data":{"name":"d"},"transform":[{"filter":"datum.p==='b'"}],
"layer":[
{"transform":[{"filter":"datum.k==='pt' && datum.s==='lo'"}],"mark":{"type":"line","color":"black","strokeWidth":5,"strokeCap":"round","strokeJoin":"round"},
"encoding":{"x":{"field":"t","type":"quantitative","scale":{"domain":[0,1200],"nice":false},"axis":null},"y":{"field":"q","type":"quantitative","scale":{"domain":[0,250],"nice":false},"axis":null}}},
{"transform":[{"filter":"datum.k==='pt' && datum.s==='hi' && datum.t>=70"}],"mark":{"type":"line","color":"black","strokeWidth":8,"strokeCap":"round","strokeJoin":"round"},
"encoding":{"x":{"field":"t","type":"quantitative","scale":{"domain":[0,1200],"nice":false},"axis":null},"y":{"field":"q","type":"quantitative","scale":{"domain":[0,250],"nice":false},"axis":null}}},
{"transform":[{"filter":"datum.k==='pt'"}],"mark":{"type":"point","filled":false,"color":"black","size":28,"strokeWidth":2,"opacity":1},
"encoding":{"x":{"field":"t","type":"quantitative","scale":{"domain":[0,1200],"nice":false},"axis":{"orient":"bottom","values":[0,200,400,600,800,1000,1200],"tickSize":-6,"labelPadding":19,"title":"Time (s)","titlePadding":12}},
"y":{"field":"q","type":"quantitative","scale":{"domain":[0,250],"nice":false},"axis":{"orient":"left","values":[0,50,100,150,200,250],"tickSize":-6,"labelPadding":18,"title":"q (mg/cm³)","titlePadding":20}}}},
{"transform":[{"filter":"datum.k==='ln'"}],"mark":{"type":"line","color":"black","strokeWidth":1.2},
"encoding":{"x":{"field":"t","type":"quantitative","scale":{"domain":[0,1200],"nice":false},"axis":{"orient":"top","values":[0,200,400,600,800,1000,1200],"tickSize":-6,"labels":false,"title":null}},
"y":{"field":"q","type":"quantitative","scale":{"domain":[0,250],"nice":false},"axis":{"orient":"right","values":[0,50,100,150,200,250],"tickSize":-6,"labels":false,"title":null}},"detail":{"field":"s"}}},
{"transform":[{"filter":"datum.k==='tx'"}],"mark":{"type":"text","fontSize":13,"align":"center","baseline":"middle"},
"encoding":{"x":{"field":"t","type":"quantitative","scale":{"domain":[0,1200],"nice":false},"axis":{"orient":"bottom","values":[0,50,100,150,200,250,300,350,400,450,500,550,600,650,700,750,800,850,900,950,1000,1050,1100,1150,1200],"tickSize":-3,"labels":false,"title":null}},
"y":{"field":"q","type":"quantitative","scale":{"domain":[0,250],"nice":false},"axis":{"orient":"left","values":[0,10,20,30,40,50,60,70,80,90,100,110,120,130,140,150,160,170,180,190,200,210,220,230,240,250],"tickSize":-3,"labels":false,"title":null}},"text":{"field":"label"}}},
{"transform":[{"filter":"datum.k==='rl'"}],"mark":{"type":"rule","color":"black","strokeWidth":0.8},
"encoding":{"x":{"field":"t","type":"quantitative","scale":{"domain":[0,1200],"nice":false},"axis":{"orient":"top","values":[0,50,100,150,200,250,300,350,400,450,500,550,600,650,700,750,800,850,900,950,1000,1050,1100,1150,1200],"tickSize":-3,"labels":false,"title":null}},
"y":{"field":"q","type":"quantitative","scale":{"domain":[0,250],"nice":false},"axis":{"orient":"right","values":[0,10,20,30,40,50,60,70,80,90,100,110,120,130,140,150,160,170,180,190,200,210,220,230,240,250],"tickSize":-3,"labels":false,"title":null}},"x2":{"field":"t2"},"y2":{"field":"q2"}}},
{"transform":[{"filter":"datum.k==='bx'"}],"mark":{"type":"text","fontSize":14,"fontWeight":"bold","align":"center","baseline":"middle"},
"encoding":{"x":{"field":"t","type":"quantitative","scale":{"domain":[0,1200],"nice":false},"axis":null},"y":{"field":"q","type":"quantitative","scale":{"domain":[0,250],"nice":false},"axis":null},"text":{"field":"label"}}}
],
"resolve":{"axis":{"x":"independent","y":"independent"}}}
]
}
